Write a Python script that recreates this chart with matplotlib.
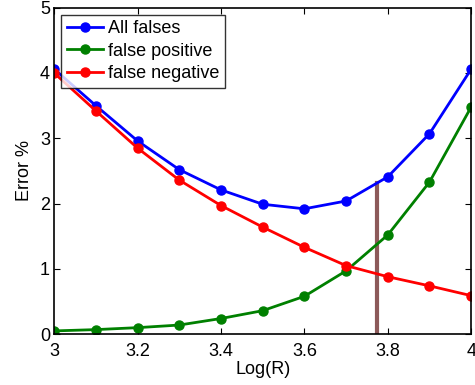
import numpy as np
import matplotlib
matplotlib.use('Agg')
import matplotlib.pyplot as plt

plt.rcParams['font.family'] = ['Liberation Sans', 'DejaVu Sans']

log_r = [3.0, 3.1, 3.2, 3.3, 3.4, 3.5, 3.6, 3.7, 3.8, 3.9, 4.0]
all_falses = [4.06, 3.50, 2.96, 2.52, 2.21, 1.99, 1.92, 2.04, 2.41, 3.07, 4.06]
false_pos = [0.05, 0.07, 0.10, 0.14, 0.24, 0.36, 0.58, 0.97, 1.52, 2.33, 3.48]
false_neg = [4.00, 3.42, 2.85, 2.36, 1.97, 1.64, 1.33, 1.05, 0.88, 0.74, 0.59]

# chosen threshold
thresh_x = 3.775
thresh_top = 2.32

fig = plt.figure(figsize=(4.75, 3.85), dpi=100)
ax = fig.add_axes([0.114, 0.132, 0.878, 0.848])

ax.plot(log_r, all_falses, '-o', color='blue', lw=2, ms=6.5, label='All falses')
ax.plot(log_r, false_pos, '-o', color='green', lw=2, ms=6.5, label='false positive')
ax.plot(log_r, false_neg, '-o', color='red', lw=2, ms=6.5, label='false negative')
ax.plot([thresh_x, thresh_x], [0, thresh_top], color='#8c5a5a', lw=3, zorder=1)

ax.set_xlim(3, 4)
ax.set_ylim(0, 5)
ax.set_xticks([3, 3.2, 3.4, 3.6, 3.8, 4])
ax.set_xticklabels(['3', '3.2', '3.4', '3.6', '3.8', '4'])
ax.set_yticks([0, 1, 2, 3, 4, 5])
ax.tick_params(direction='in', top=True, right=True, labelsize=13, length=4)
ax.tick_params(axis='x', pad=6)
ax.tick_params(axis='y', pad=3)
for s in ax.spines.values():
    s.set_linewidth(1.2)
ax.set_xlabel('Log(R)', fontsize=13, labelpad=1)
ax.set_ylabel('Error %', fontsize=13, labelpad=5)

leg = ax.legend(loc='upper left', fontsize=13, frameon=True, fancybox=False,
                edgecolor='black', borderaxespad=0.4, handlelength=2.0,
                handletextpad=0.3, labelspacing=0.3, borderpad=0.3)
leg.get_frame().set_linewidth(1)

fig.savefig('out.png', dpi=100)
